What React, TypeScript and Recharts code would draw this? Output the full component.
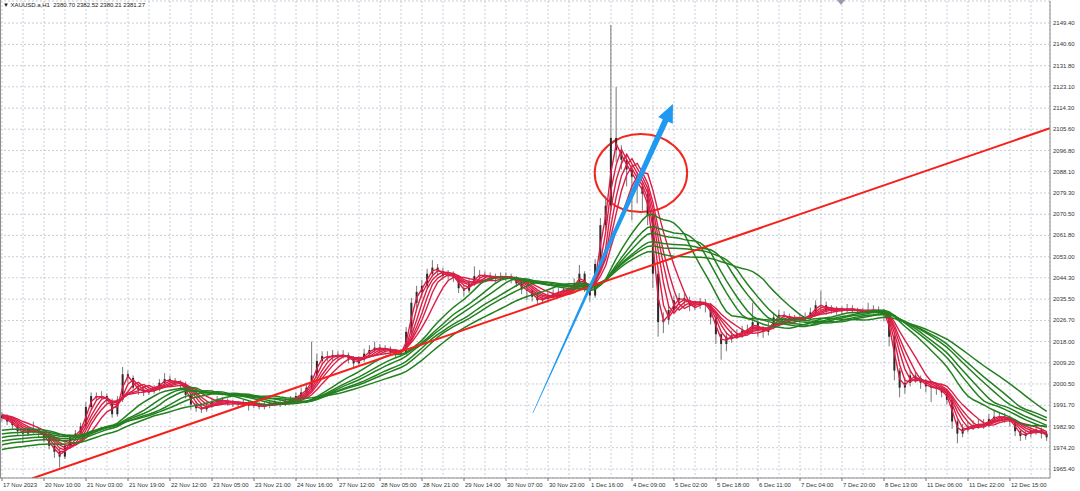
import {
  ComposedChart,
  Line,
  Bar,
  XAxis,
  YAxis,
  CartesianGrid,
  ReferenceLine,
  ReferenceArea,
} from "recharts";

// XAUUSD H1, one point = 2 hourly bars
const closes = [
  1986.5, 1985, 1983.5, 1981, 1980, 1981.5, 1981, 1980.5, 1978, 1975,
  1972.5, 1970.5, 1975, 1978.5, 1980, 1983, 1991, 1995.5, 1995, 1995.5,
  1993.5, 1988, 1994, 2004.5, 2003, 1999, 1998, 1997, 1997.5, 1998.5,
  2001, 2002.5, 2001.5, 2001, 2000.5, 1996, 1992, 1990.5, 1990, 1991.5,
  1993, 1994, 1993.5, 1993, 1992.5, 1992, 1992.5, 1991.5, 1992, 1991,
  1991.5, 1992.5, 1993, 1992.5, 1993.5, 1994, 1995.5, 1997, 1999, 2004,
  2010, 2012, 2011.5, 2012.5, 2012, 2012.5, 2011, 2009, 2010.5, 2013,
  2014.5, 2015.5, 2015, 2015, 2013.5, 2013, 2013.5, 2022, 2034, 2038.5,
  2041, 2046, 2048.5, 2047, 2045, 2045.5, 2044.5, 2040, 2039, 2042,
  2045, 2045.5, 2045, 2044.5, 2044, 2045, 2044.5, 2044, 2042, 2039.5,
  2039, 2036.5, 2035, 2035.5, 2037, 2038, 2038.5, 2039.5, 2040, 2042,
  2046, 2040, 2037, 2050, 2066, 2074, 2102, 2097, 2093, 2089,
  2086, 2082, 2079, 2070, 2046, 2026, 2027, 2031, 2035, 2036,
  2035, 2033, 2033, 2034, 2033, 2028, 2021, 2017, 2020, 2020.5,
  2021, 2022.5, 2023, 2026, 2023, 2022, 2024, 2028, 2029, 2028.5,
  2027, 2027, 2027.5, 2028, 2030, 2033, 2033, 2031, 2031, 2030.5,
  2031, 2031.5, 2031, 2030.5, 2030, 2031, 2031, 2030.5, 2029, 2020,
  2006, 1999, 2001, 2004, 2003, 2001, 1999.5, 1999, 1998.5, 1997,
  1994, 1985, 1980, 1982, 1983, 1983.5, 1984, 1984, 1986, 1987,
  1987, 1986.5, 1985, 1981, 1979, 1980, 1981.5, 1981.5, 1980, 1978.5,
];

const highs = [
  1989, 1988, 1986, 1984.5, 1982.5, 1983, 1985, 1982.5, 1981.5, 1979,
  1976, 1974, 1976.5, 1979.5, 1981.5, 1984.5, 1993, 1997, 1997, 1997.5,
  1996.5, 1994.5, 1995.5, 2007.5, 2006, 2004, 2000.5, 1999, 1999, 2000,
  2002.5, 2005, 2004, 2003, 2002, 2001.5, 1997, 1993.5, 1992, 1993,
  1994.5, 1995.5, 1995, 1994.5, 1994, 1993.5, 1994, 1993.5, 1993, 1993,
  1993, 1994, 1994.5, 1994, 1995, 1995.5, 1997, 1999, 2001, 2018,
  2013, 2014, 2014, 2014.5, 2014, 2014.5, 2013.5, 2012, 2012, 2015,
  2016.5, 2018, 2017, 2016.5, 2016, 2015, 2015, 2024, 2036, 2041,
  2043.5, 2048, 2051.6, 2050, 2048.5, 2047.5, 2047, 2045.5, 2041.5, 2044,
  2049, 2047.5, 2047, 2046.5, 2046, 2046.5, 2046.5, 2046, 2045, 2043,
  2041, 2040, 2038, 2037, 2038.5, 2039.5, 2040, 2041, 2041.5, 2044,
  2049.6, 2047, 2041, 2052, 2069, 2078, 2148.6, 2123, 2099, 2095,
  2091, 2088, 2084, 2081, 2071, 2047, 2030, 2033, 2037, 2038,
  2038, 2036.5, 2035, 2036, 2035.5, 2034, 2029, 2022, 2022, 2022.5,
  2023, 2024.5, 2025, 2034, 2027.5, 2024.5, 2026, 2030, 2031, 2030.5,
  2029.5, 2029, 2029, 2030, 2032, 2035, 2039, 2034.5, 2033, 2032.5,
  2032.5, 2033.5, 2033, 2032, 2032, 2034, 2033, 2032.5, 2031.5, 2030,
  2021, 2007, 2003, 2006, 2005.5, 2004, 2002.5, 2001, 2000.5, 1999.5,
  1998, 1995, 1986, 1984, 1985, 1985.5, 1986, 1986, 1988, 1990,
  1989, 1988.5, 1987.5, 1986, 1982, 1981.5, 1983, 1983, 1982.5, 1981,
];

const lows = [
  1985, 1983.5, 1982, 1979.5, 1976, 1979, 1980, 1978.5, 1976.5, 1973.5,
  1970, 1966, 1969.5, 1974, 1977, 1979, 1982, 1990, 1993.5, 1994,
  1992, 1986.5, 1987, 1993, 2001, 1997.5, 1996, 1995.5, 1996, 1996.5,
  1997.5, 2000, 2000, 1999.5, 1998.5, 1994.5, 1990, 1989, 1988.5, 1989,
  1990.5, 1992, 1992, 1991.5, 1991, 1990.5, 1991, 1989.5, 1990.5, 1990,
  1990, 1990.5, 1991.5, 1991, 1991.5, 1992.5, 1993, 1994.5, 1996, 1998,
  2003, 2008.5, 2010, 2010, 2010.5, 2011, 2009, 2007, 2008, 2009.5,
  2012, 2013.5, 2013.5, 2013, 2012, 2011.5, 2012, 2012.5, 2021, 2032,
  2036, 2040, 2045, 2045, 2043.5, 2043.5, 2042.5, 2038, 2036.5, 2038,
  2041, 2043.5, 2043.5, 2043, 2042.5, 2043, 2043, 2042, 2040.5, 2037.5,
  2035, 2034.5, 2033, 2033.5, 2034, 2036, 2036.5, 2037, 2038, 2039,
  2041, 2038.5, 2034.5, 2036, 2049, 2064, 2072, 2092, 2089, 2082,
  2068, 2075, 2072, 2066, 2040, 2020, 2021.5, 2025, 2029.5, 2033,
  2033, 2030.5, 2031, 2031.5, 2030, 2025, 2017, 2010.5, 2014, 2017.5,
  2019, 2019.5, 2021, 2021.5, 2020, 2019.5, 2020.5, 2023, 2026.5, 2026.5,
  2025, 2025.5, 2025.5, 2026, 2027, 2029, 2031, 2029, 2029.5, 2029,
  2029, 2030, 2029.5, 2029, 2028.5, 2029, 2029.5, 2029, 2026.5, 2016,
  2002, 1995, 1996.5, 1999.5, 2001, 1998.5, 1997, 1993, 1996, 1995,
  1992, 1982, 1976, 1978.5, 1980.5, 1981.5, 1982, 1982, 1982.5, 1984.5,
  1985, 1984.5, 1983, 1979, 1977, 1977.5, 1978.5, 1979.5, 1978, 1977,
];

const firstOpen = 1987.5;

// moving-average fans (periods in 2-bar points) and their values at the left edge
const redPeriods = [2, 3, 4, 5, 6, 8];
const redStart = [1986.5, 1987, 1987.5, 1987.5, 1988, 1988];
const greenPeriods = [15, 18, 20, 23, 25, 30];
const greenStart = [1981, 1979.5, 1978, 1976.5, 1975, 1973];

const priceTicks = [
  2149.4, 2140.6, 2131.8, 2123.1, 2114.3, 2105.6, 2096.8, 2088.1, 2079.3,
  2070.5, 2061.8, 2053.0, 2044.3, 2035.5, 2026.7, 2018.0, 2009.2, 2000.5,
  1991.7, 1982.9, 1974.2, 1965.4,
];

const gridTicks = [
  0, 4, 8, 12, 16, 20, 24, 28, 32, 36, 40, 44, 48, 52, 56, 60, 64, 68, 72, 76,
  80, 84, 88, 92, 96, 100, 104, 108, 112, 116, 120, 124, 128, 132, 136, 140,
  144, 148, 152, 156, 160, 164, 168, 172, 176, 180, 184, 188, 192, 196,
];
const labelAt = [
  0, 8, 16, 24, 32, 40, 48, 56, 64, 72, 80, 88, 96, 104, 112, 120, 128, 136,
  144, 152, 160, 168, 176, 184, 192,
];
const timeLabels = [
  "17 Nov 2023", "20 Nov 10:00", "21 Nov 03:00", "21 Nov 19:00", "22 Nov 12:00",
  "23 Nov 05:00", "23 Nov 21:00", "24 Nov 16:00", "27 Nov 12:00", "28 Nov 05:00",
  "28 Nov 21:00", "29 Nov 14:00", "30 Nov 07:00", "30 Nov 23:00", "1 Dec 16:00",
  "4 Dec 09:00", "5 Dec 02:00", "5 Dec 18:00", "6 Dec 11:00", "7 Dec 04:00",
  "7 Dec 20:00", "8 Dec 13:00", "11 Dec 06:00", "11 Dec 22:00", "12 Dec 15:00",
];

// annotations in chart units (bar index, price)
const trendLine = [
  { i: 5.7, price: 1961.5 },
  { i: 199.6, price: 2106 },
];
const arrowLine = [
  { i: 101.1, price: 1988.5 },
  { i: 127.8, price: 2116 },
];
const circleBox = { i1: 112.9, i2: 130.5, p1: 2071.4, p2: 2103.6 };

const FONT = "'Liberation Sans', Arial, sans-serif";
const RED = "#dc1e46";
const GREEN = "#23801f";

// simple moving average; bars before the first visible one take the line's starting value
function sma(values: number[], period: number, start: number) {
  return values.map((_, i) => {
    let sum = 0;
    for (let k = i - period + 1; k <= i; k++) sum += k >= 0 ? values[k] : start;
    return sum / period;
  });
}

const redFans = redPeriods.map((p, n) => sma(closes, p, redStart[n]));
const greenFans = greenPeriods.map((p, n) => sma(closes, p, greenStart[n]));

const rows = closes.map((c, i) => {
  const row: any = {
    i,
    open: i === 0 ? firstOpen : closes[i - 1],
    close: c,
    high: highs[i],
    low: lows[i],
    range: [lows[i], highs[i]],
  };
  redFans.forEach((s, n) => (row[`r${n}`] = s[i]));
  greenFans.forEach((s, n) => (row[`g${n}`] = s[i]));
  return row;
});

function Candle(props: any) {
  const { x, width, payload } = props;
  let { y, height } = props;
  if (payload == null || height == null) return null;
  if (height < 0) {
    y += height;
    height = -height;
  }
  const cx = x + width / 2;
  const span = payload.high - payload.low;
  const ppu = span > 0 ? height / span : 0;
  const top = y + (payload.high - Math.max(payload.open, payload.close)) * ppu;
  const bot = y + (payload.high - Math.min(payload.open, payload.close)) * ppu;
  return (
    <g>
      <line x1={cx} x2={cx} y1={y} y2={y + height} stroke="#777" strokeWidth={1} />
      <rect x={cx - 1} y={top} width={2} height={Math.max(1, bot - top)} fill="#2a2a2a" />
    </g>
  );
}

function TimeTick(props: any) {
  const { x, y, payload } = props;
  const k = labelAt.indexOf(payload.value);
  if (k < 0) return null;
  return (
    <g>
      <line x1={x} x2={x} y1={y} y2={y + 3} stroke="#777" />
      <text x={x + 1} y={y + 8.5} fontSize={6} fontFamily={FONT} fill="#333" textAnchor="start">
        {timeLabels[k]}
      </text>
    </g>
  );
}

function PriceTick(props: any) {
  const { x, y, payload } = props;
  return (
    <text x={x + 3} y={y + 2} fontSize={6} fontFamily={FONT} fill="#333" textAnchor="start">
      {Number(payload.value).toFixed(2)}
    </text>
  );
}

function Arrow(props: any) {
  const { x1, y1, x2, y2 } = props;
  if ([x1, y1, x2, y2].some((v) => typeof v !== "number")) return null;
  const dx = x2 - x1;
  const dy = y2 - y1;
  const len = Math.hypot(dx, dy);
  const ux = dx / len;
  const uy = dy / len;
  const nx = -uy;
  const ny = ux;
  const head = 18;
  const bx = x2 - ux * head;
  const by = y2 - uy * head;
  const pts = [
    [x1 + nx * 0.3, y1 + ny * 0.3],
    [bx + nx * 3, by + ny * 3],
    [bx + nx * 8, by + ny * 8],
    [x2, y2],
    [bx - nx * 8, by - ny * 8],
    [bx - nx * 3, by - ny * 3],
    [x1 - nx * 0.3, y1 - ny * 0.3],
  ];
  return <polygon points={pts.map((p) => p.join(",")).join(" ")} fill="#1f9af0" />;
}

function Ring(props: any) {
  const { x, y, width, height } = props;
  return (
    <ellipse
      cx={x + width / 2}
      cy={y + height / 2}
      rx={Math.abs(width) / 2}
      ry={Math.abs(height) / 2}
      fill="none"
      stroke="#f0281e"
      strokeWidth={2}
    />
  );
}

export default function App() {
  return (
    <div
      style={{
        position: "absolute",
        left: 0,
        top: 0,
        width: 1080,
        height: 491,
        background: "#ffffff",
        overflow: "hidden",
      }}
    >
      <ComposedChart
        width={1080}
        height={491}
        data={rows}
        margin={{ top: 1, right: 0, bottom: 0, left: 0 }}
      >
        <CartesianGrid stroke="#c8cdd7" strokeDasharray="2 2" />
        <XAxis
          dataKey="i"
          type="number"
          domain={[-0.381, 199.619]}
          allowDataOverflow
          ticks={gridTicks}
          interval={0}
          tick={<TimeTick />}
          tickLine={false}
          tickSize={0}
          tickMargin={0}
          axisLine={{ stroke: "#8c8c8c" }}
          height={13}
        />
        <YAxis
          orientation="right"
          type="number"
          domain={[1961.7, 2158.5]}
          allowDataOverflow
          ticks={priceTicks}
          interval={0}
          tick={<PriceTick />}
          tickLine={false}
          tickSize={0}
          tickMargin={0}
          axisLine={{ stroke: "#8c8c8c" }}
          width={30}
        />
        <Bar
          dataKey="range"
          barSize={3}
          shape={<Candle />}
          isAnimationActive={false}
        />
        {redFans.map((_, n) => (
          <Line
            key={`r${n}`}
            dataKey={`r${n}`}
            type="linear"
            stroke={RED}
            strokeWidth={1.4}
            dot={false}
            activeDot={false}
            isAnimationActive={false}
          />
        ))}
        {greenFans.map((_, n) => (
          <Line
            key={`g${n}`}
            dataKey={`g${n}`}
            type="linear"
            stroke={GREEN}
            strokeWidth={1.5}
            dot={false}
            activeDot={false}
            isAnimationActive={false}
          />
        ))}
        <ReferenceLine
          segment={trendLine.map((p) => ({ x: p.i, y: p.price }))}
          stroke="#f5201a"
          strokeWidth={2}
          ifOverflow="hidden"
        />
        <ReferenceLine
          segment={arrowLine.map((p) => ({ x: p.i, y: p.price }))}
          shape={(p: any) => <Arrow {...p} />}
          ifOverflow="visible"
        />
        <ReferenceArea
          x1={circleBox.i1}
          x2={circleBox.i2}
          y1={circleBox.p1}
          y2={circleBox.p2}
          shape={(p: any) => <Ring {...p} />}
          ifOverflow="visible"
        />
      </ComposedChart>
      <div
        style={{
          position: "absolute",
          left: 0,
          top: 0,
          width: 1,
          height: 478,
          background: "#8c8c8c",
        }}
      />
      <div
        style={{
          position: "absolute",
          left: 3,
          top: 2,
          fontFamily: FONT,
          fontSize: 6,
          color: "#222",
          whiteSpace: "pre",
        }}
      >
        {"▼ XAUUSD.a,H1  2380.70 2382.52 2380.21 2381.27"}
      </div>
      <div
        style={{
          position: "absolute",
          left: 837,
          top: 0,
          width: 0,
          height: 0,
          borderLeft: "4px solid transparent",
          borderRight: "4px solid transparent",
          borderTop: "5px solid #9a9aa8",
        }}
      />
    </div>
  );
}
